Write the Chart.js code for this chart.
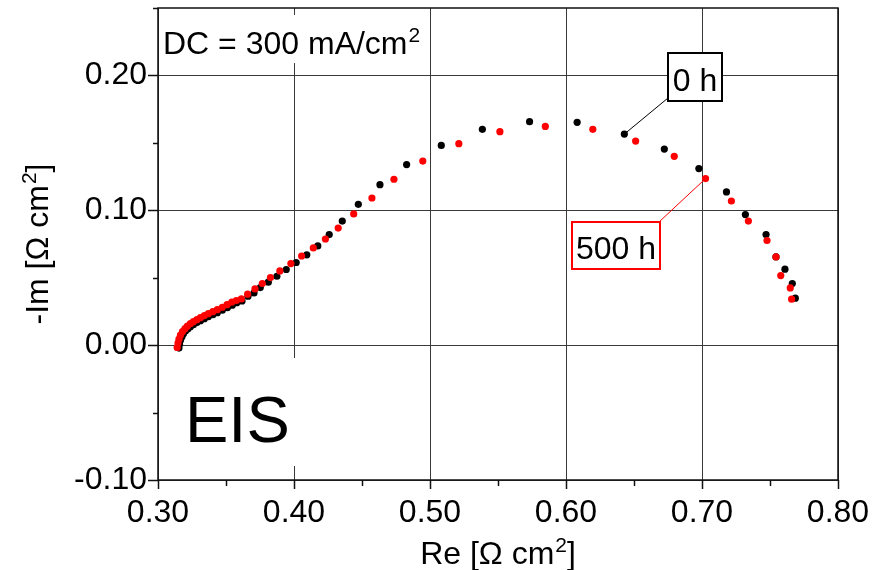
<!DOCTYPE html>
<html>
<head>
<meta charset="utf-8">
<title>EIS</title>
<script src="https://cdn.jsdelivr.net/npm/chart.js@4.4.1/dist/chart.umd.min.js"></script>
<style>
  html, body { margin: 0; padding: 0; background: #fff; }
  canvas { display: block; }
</style>
</head>
<body>
<canvas id="eis-chart" width="890" height="570"></canvas>
<script>
// Nyquist plot, 0 h (black)
const re0h = [0.3154, 0.3158, 0.3165, 0.3176, 0.3187, 0.3202, 0.3220, 0.3238, 0.3260, 0.3286,
  0.3312, 0.3341, 0.3370, 0.3403, 0.3436, 0.3473, 0.3510, 0.3546, 0.3579, 0.3618,
  0.3662, 0.3706, 0.3752, 0.3811, 0.3874, 0.3943, 0.4016, 0.4094, 0.4175, 0.4259,
  0.4355, 0.4473, 0.4632, 0.4828, 0.5083, 0.5385, 0.5732, 0.6082, 0.6429, 0.6723,
  0.6977, 0.7180, 0.7319, 0.7471, 0.7544, 0.7610, 0.7664, 0.7686];
const im0h = [-0.0022, 0.0007, 0.0037, 0.0063, 0.0085, 0.0104, 0.0122, 0.0137, 0.0152, 0.0167,
  0.0181, 0.0196, 0.0211, 0.0226, 0.0241, 0.0259, 0.0278, 0.0296, 0.0315, 0.0328,
  0.0363, 0.0387, 0.0427, 0.0467, 0.0511, 0.0561, 0.0613, 0.0670, 0.0736, 0.0820,
  0.0920, 0.1044, 0.1190, 0.1339, 0.1481, 0.1600, 0.1657, 0.1652, 0.1565, 0.1454,
  0.1309, 0.1136, 0.0968, 0.0820, 0.0654, 0.0563, 0.0457, 0.0348];

// 500 h (red)
const re500h = [0.3141, 0.3147, 0.3154, 0.3165, 0.3180, 0.3198, 0.3216, 0.3238, 0.3260, 0.3286,
  0.3312, 0.3341, 0.3370, 0.3403, 0.3436, 0.3473, 0.3508, 0.3543, 0.3576, 0.3613,
  0.3659, 0.3713, 0.3767, 0.3827, 0.3896, 0.3977, 0.4056, 0.4142, 0.4231, 0.4325,
  0.4439, 0.4573, 0.4735, 0.4947, 0.5212, 0.5514, 0.5848, 0.6197, 0.6512, 0.6796,
  0.7026, 0.7216, 0.7341, 0.7478, 0.7544, 0.7579, 0.7649, 0.7659];
const im500h = [-0.0017, 0.0015, 0.0044, 0.0074, 0.0100, 0.0122, 0.0141, 0.0159, 0.0174, 0.0189,
  0.0204, 0.0219, 0.0233, 0.0248, 0.0263, 0.0281, 0.0300, 0.0319, 0.0331, 0.0343,
  0.0378, 0.0417, 0.0457, 0.0501, 0.0550, 0.0605, 0.0661, 0.0721, 0.0787, 0.0868,
  0.0973, 0.1091, 0.1230, 0.1365, 0.1494, 0.1583, 0.1622, 0.1600, 0.1513, 0.1400,
  0.1235, 0.1069, 0.0920, 0.0776, 0.0654, 0.0516, 0.0424, 0.0341];

// labelled ticks (minor ticks sit halfway between)
const xMajor = [0.30, 0.40, 0.50, 0.60, 0.70, 0.80];
const yMajor = [-0.10, 0.00, 0.10, 0.20];

const FONT = '"Liberation Sans", Arial, sans-serif';

const toPoints = (xs, ys) => xs.map((v, i) => ({ x: v, y: ys[i] }));
const isMajor = (list, v) => list.some(m => Math.abs(m - v) < 1e-6);
const fmt = v => (Math.abs(v) < 1e-9 ? 0 : v).toFixed(2);

const gridColor = list => c => (c.tick && isMajor(list, c.tick.value)) ? '#3a3a3a' : 'rgba(0,0,0,0)';

// zero out the label overflow so the plot area lands where the original one is
function fixWidth(w) {
  return scale => {
    scale.width = w;
    scale.paddingLeft = scale.paddingRight = scale.paddingTop = scale.paddingBottom = 0;
  };
}
function fixHeight(h) {
  return scale => {
    scale.height = h;
    scale.paddingLeft = scale.paddingRight = scale.paddingTop = scale.paddingBottom = 0;
  };
}

// text with a raised "2" (cm2); centred on cx when align = 'center'
function supText(ctx, pre, sup, post, x, baseline, size, align) {
  ctx.font = size + 'px ' + FONT;
  const w1 = ctx.measureText(pre).width;
  const w3 = ctx.measureText(post).width;
  const supSize = Math.round(size * 0.66);
  ctx.font = supSize + 'px ' + FONT;
  const w2 = ctx.measureText(sup).width;
  const total = w1 + w2 + w3 + 1;
  let x0 = align === 'center' ? x - total / 2 : x;
  ctx.textAlign = 'left';
  ctx.textBaseline = 'alphabetic';
  ctx.font = size + 'px ' + FONT;
  ctx.fillText(pre, x0, baseline);
  ctx.font = supSize + 'px ' + FONT;
  ctx.fillText(sup, x0 + w1 + 1, baseline - size * 0.36);
  ctx.font = size + 'px ' + FONT;
  ctx.fillText(post, x0 + w1 + w2 + 1, baseline);
}

const decorations = {
  id: 'decorations',
  afterDatasetsDraw(chart) {
    const { ctx, chartArea: a, scales: { x, y } } = chart;
    ctx.save();

    // white boxes behind the two free texts
    ctx.fillStyle = '#fff';
    ctx.fillRect(a.left + 1, 15, 270, 48);
    ctx.fillRect(a.left + 1, 358, 147, 108);

    ctx.fillStyle = '#000';
    supText(ctx, 'DC = 300 mA/cm', '2', '', 163, 53.5, 32, 'left');

    ctx.font = '65px ' + FONT;
    ctx.textAlign = 'left';
    ctx.fillText('EIS', 185, 442);

    // "0 h" label with leader to a black point
    const p0 = { x: x.getPixelForValue(re0h[38]), y: y.getPixelForValue(im0h[38]) };
    ctx.strokeStyle = '#000';
    ctx.lineWidth = 1;
    ctx.beginPath();
    ctx.moveTo(p0.x, p0.y);
    ctx.lineTo(668, 98);
    ctx.stroke();
    ctx.fillStyle = '#fff';
    ctx.fillRect(668, 53, 54, 48);
    ctx.lineWidth = 2;
    ctx.strokeRect(668, 53, 54, 48);
    ctx.fillStyle = '#000';
    ctx.font = '32px ' + FONT;
    ctx.textAlign = 'center';
    ctx.fillText('0 h', 695, 90.5);

    // "500 h" label with leader to a red point
    const p5 = { x: x.getPixelForValue(re500h[40]), y: y.getPixelForValue(im500h[40]) };
    ctx.strokeStyle = '#ff0000';
    ctx.lineWidth = 1;
    ctx.beginPath();
    ctx.moveTo(p5.x, p5.y);
    ctx.lineTo(659, 222);
    ctx.stroke();
    ctx.fillStyle = '#fff';
    ctx.fillRect(572, 222, 88, 47);
    ctx.lineWidth = 2;
    ctx.strokeRect(572, 222, 88, 47);
    ctx.fillStyle = '#000';
    ctx.fillText('500 h', 616, 259);

    ctx.restore();
  },
  afterDraw(chart) {
    const { ctx, chartArea: a, scales: { x, y } } = chart;
    ctx.save();
    ctx.strokeStyle = '#111';
    ctx.lineWidth = 1.5;
    // tick marks: long at labelled values, short between
    ctx.beginPath();
    y.ticks.forEach(t => {
      const py = Math.round(y.getPixelForValue(t.value)) + 0.5;
      const len = isMajor(yMajor, t.value) ? 10 : 5;
      ctx.moveTo(a.left - len, py);
      ctx.lineTo(a.left, py);
    });
    x.ticks.forEach(t => {
      const px = Math.round(x.getPixelForValue(t.value)) + 0.5;
      const len = isMajor(xMajor, t.value) ? 9 : 6;
      ctx.moveTo(px, a.bottom);
      ctx.lineTo(px, a.bottom + len);
    });
    ctx.stroke();
    // frame
    ctx.strokeRect(a.left, a.top, a.right - a.left, a.bottom - a.top);

    // axis titles
    ctx.fillStyle = '#000';
    supText(ctx, 'Re [Ω cm', '2', ']', (a.left + a.right) / 2, 564, 32, 'center');
    ctx.translate(48, (a.top + a.bottom) / 2);
    ctx.rotate(-Math.PI / 2);
    supText(ctx, '-Im [Ω cm', '2', ']', 0, 0, 32, 'center');
    ctx.restore();
  }
};

const ctx = document.getElementById('eis-chart').getContext('2d');
new Chart(ctx, {
  type: 'scatter',
  data: {
    datasets: [
      {
        label: '0 h',
        data: toPoints(re0h, im0h),
        backgroundColor: '#000',
        borderWidth: 0,
        pointRadius: 3.6,
        order: 1
      },
      {
        label: '500 h',
        data: toPoints(re500h, im500h),
        backgroundColor: '#ff0000',
        borderWidth: 0,
        pointRadius: 3.6,
        order: 0
      }
    ]
  },
  options: {
    responsive: false,
    animation: false,
    devicePixelRatio: 1,
    layout: { padding: { top: 8, right: 52, left: 0, bottom: 0 } },
    plugins: {
      legend: { display: false },
      tooltip: { enabled: false }
    },
    scales: {
      x: {
        type: 'linear',
        min: 0.30,
        max: 0.80,
        afterFit: fixHeight(90),
        border: { display: false },
        grid: { color: gridColor(xMajor), lineWidth: 1, drawTicks: false },
        ticks: {
          stepSize: 0.05,
          autoSkip: false,
          maxRotation: 0,
          padding: 14,
          color: '#000',
          font: { family: FONT, size: 32 },
          callback: v => isMajor(xMajor, v) ? fmt(v) : ''
        }
      },
      y: {
        type: 'linear',
        min: -0.10,
        max: 0.25,
        afterFit: fixWidth(158),
        border: { display: false },
        grid: { color: gridColor(yMajor), lineWidth: 1, drawTicks: false },
        ticks: {
          stepSize: 0.05,
          autoSkip: false,
          padding: 11,
          color: '#000',
          font: { family: FONT, size: 32 },
          callback: v => isMajor(yMajor, v) ? fmt(v) : ''
        }
      }
    }
  },
  plugins: [decorations]
});
</script>
</body>
</html>
